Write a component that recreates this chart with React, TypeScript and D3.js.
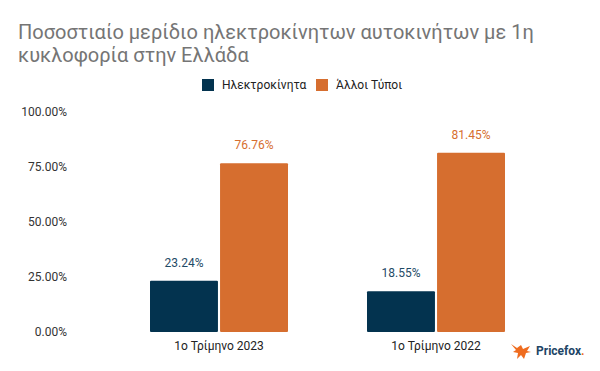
import React from "react";
import * as d3 from "d3";

const categories = ["1ο Τρίμηνο 2023", "1ο Τρίμηνο 2022"];
const seriesNames = ["Ηλεκτροκίνητα", "Άλλοι Τύποι"];
const electric = [23.24, 18.55];
const others = [76.76, 81.45];
const yTicks = [0, 25, 50, 75, 100];
const colors = ["#03334f", "#d66e2f"];

export default function App() {
  const W = 600, H = 371;
  const left = 110.5, right = 544.5, top = 112, bottom = 332;
  const x = d3.scaleBand().domain(categories).range([left, right]).paddingInner(0).paddingOuter(0);
  const inner = d3.scaleBand().domain(["0", "1"]).range([0, 138]).paddingInner(0.03);
  const y = d3.scaleLinear().domain([0, 100]).range([bottom, top]);
  const series = [electric, others];
  const font = "Roboto, 'Noto Sans', sans-serif";
  return (
    <svg width={W} height={H} style={{ position: "absolute", left: 0, top: 0, fontFamily: font }}>
      <rect width={W} height={H} fill="#fff" />
      <text x={18} y={39} fontSize={20} fill="#757575">Ποσοστιαίο μερίδιο ηλεκτροκίνητων αυτοκινήτων με 1η</text>
      <text x={18} y={62} fontSize={20} fill="#757575">κυκλοφορία στην Ελλάδα</text>
      {seriesNames.map((n, i) => {
        const lx = [202, 316][i];
        return (
          <g key={n}>
            <rect x={lx} y={79} width={12} height={12} fill={colors[i]} />
            <text x={lx + 20} y={89} fontSize={12} fill="#222">{n}</text>
          </g>
        );
      })}
      {yTicks.map((t) => (
        <text key={t} x={67} y={y(t) + 4} fontSize={12} fill="#333" textAnchor="end">
          {t.toFixed(2)}%
        </text>
      ))}
      {categories.map((c, ci) => {
        const bx = (x(c) as number) + (x.bandwidth() - 138) / 2;
        return (
          <g key={c}>
            {series.map((s, si) => {
              const v = s[ci];
              const rx = bx + (inner(String(si)) as number);
              return (
                <g key={si}>
                  <rect x={rx} y={y(v)} width={inner.bandwidth()} height={bottom - y(v)} fill={colors[si]} rx={1} />
                  <text x={rx + inner.bandwidth() / 2} y={y(v) - 14} fontSize={12} fill={si === 0 ? "#1f4a66" : colors[1]} textAnchor="middle">
                    {v.toFixed(2)}%
                  </text>
                </g>
              );
            })}
            <text x={(x(c) as number) + x.bandwidth() / 2} y={350} fontSize={12} fill="#222" textAnchor="middle">{c}</text>
          </g>
        );
      })}
      <g transform="translate(511,343)">
        <path d="M0,1 L6,5 L10,2 L12,6 L19,3 L16,8 L20,9 L15,10 L13,16 L10,12 L6,16 L7,10 L2,9 L5,7 Z" fill="#ef6c1f" />
        <text x={25} y={12} fontSize={12} fontWeight={700} fill="#1e4566">Pricefox<tspan fill="#ef6c1f">.</tspan></text>
      </g>
    </svg>
  );
}
